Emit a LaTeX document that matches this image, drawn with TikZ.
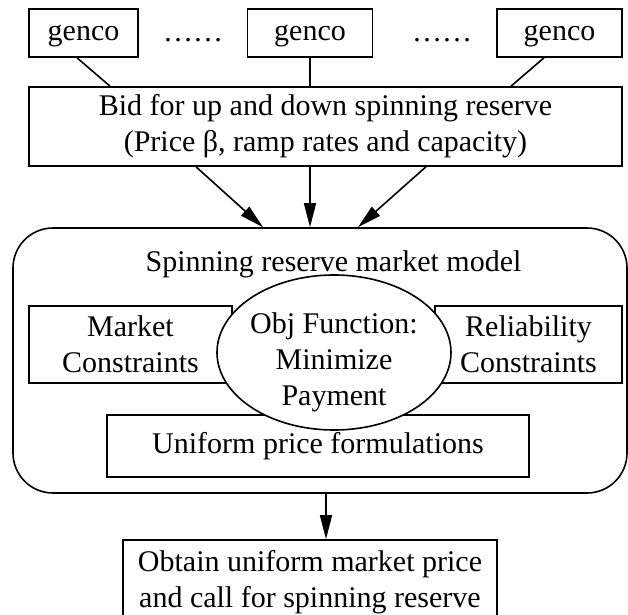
\documentclass[tikz,border=0pt]{standalone}
\usepackage{fontspec}
\setmainfont{Liberation Serif}
\usetikzlibrary{
  arrows.meta,
  positioning,
  calc,
  shapes.geometric
}

\begin{document}
\begin{tikzpicture}[
  x=0.5pt, y=-0.5pt,
  font=\fontsize{15}{18}\selectfont,
  box/.style={draw, line width=0.8pt, inner sep=0pt, align=center},
  gbox/.style={box, minimum height=24pt, text height=11pt, text depth=3pt},
  ellip/.style={draw, ellipse, line width=0.8pt, inner sep=0pt, fill=white},
  link/.style={line width=0.8pt},
  flow/.style={line width=0.8pt, -{Triangle[length=12pt, width=6pt]}},
]
  \clip (0,0) rectangle (628,615);

  % Generators
  \node[gbox, minimum width=54.5pt] (g1) at (83.5,33) {genco};
  \node[gbox, minimum width=62.5pt] (g2) at (310,33) {genco};
  \node[gbox, minimum width=62.5pt] (g3) at (559.5,33) {genco};
  \node[anchor=base, inner sep=0pt] (dots1) at (193,42) {……};
  \node[anchor=base, inner sep=0pt] (dots2) at (442,42) {……};

  \node[box, minimum width=296.5pt, minimum height=39.5pt] (bid) at (325.5,126.5)
    {Bid for up and down spinning reserve\\(Price β, ramp rates and capacity)};

  % Market model
  \node[box, rounded corners=20pt, minimum width=307pt, minimum height=132.5pt] (model) at (320,360.5) {};
  \node[box, minimum width=101.5pt, minimum height=38.5pt] (mkt) at (130.5,344.5) {Market\\Constraints};
  \node[box, minimum width=93.5pt, minimum height=38.5pt] (rel) at (528.5,344.5) {Reliability\\Constraints};
  \node[box, minimum width=211pt, minimum height=31pt] (unif) at (318,446) {Uniform price formulations};
  \node[ellip, minimum width=117pt, minimum height=77.5pt] (obj) at (334,352.5) {};
  \node[align=center, inner sep=0pt] (objtxt) at (334,362) {Obj Function:\\Minimize\\Payment};
  \node[anchor=base, inner sep=0pt] (title) at (333.5,272) {Spinning reserve market model};

  \node[box, minimum width=187pt, minimum height=42pt] (res) at (310,582)
    {Obtain uniform market price\\and call for spinning reserve};

  % Connectors
  \draw[link] ($(g1.south)+(-6.5,0)$) -- ($(bid.north)+(-215.5,0)$);
  \draw[link] (g2.south) -- (g2.south |- bid.north);
  \draw[link] ($(g3.south)+(-15.5,0)$) -- ($(bid.north)+(185.5,0)$);

  \draw[flow] ($(bid.south)+(-129.5,0)$) -- ($(model.north)+(-57,0)$);
  \draw[flow] ($(bid.south)+(-15.5,0)$) -- ($(model.north)+(-10,0)$);
  \draw[flow] ($(bid.south)+(100.5,0)$) -- ($(model.north)+(38,0)$);
  \draw[flow] ($(model.south)+(6,0)$) -- ($(res.north)+(16,0)$);
\end{tikzpicture}
\end{document}
